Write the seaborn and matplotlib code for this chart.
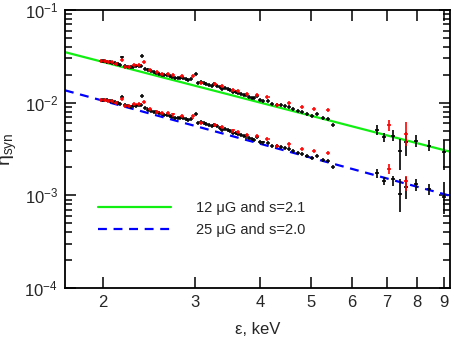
import numpy as np
import pandas as pd
import matplotlib
matplotlib.use('Agg')
import matplotlib.pyplot as plt
import seaborn as sns
from matplotlib.ticker import FixedLocator, FixedFormatter, LogLocator, NullFormatter

# ---------------- data ----------------
line_eps = [1.69, 9.25]
green_eta = [0.0351, 0.00296]
blue_eta = [0.01359, 0.00099]

black_eps = [1.989, 2.011, 2.035, 2.060, 2.084, 2.109, 2.134, 2.156, 2.178, 2.204,
             2.231, 2.257, 2.284, 2.311, 2.338, 2.362, 2.379, 2.411, 2.440, 2.472,
             2.502, 2.531, 2.561, 2.591, 2.621, 2.653, 2.684, 2.715, 2.748, 2.781,
             2.813, 2.847, 2.881, 2.914, 2.949, 3.011, 3.046, 3.082, 3.119, 3.155,
             3.193, 3.231, 3.268, 3.307, 3.347, 3.385, 3.426, 3.467, 3.507, 3.549,
             3.592, 3.634, 3.677, 3.721, 3.764, 3.809, 3.855, 3.899, 3.940, 3.998,
             4.057, 4.136, 4.221, 4.303, 4.380, 4.464, 4.549, 4.630, 4.721, 4.805,
             4.912, 5.035, 5.133, 5.271, 5.389, 5.509]
upper_black = [0.02823, 0.02802, 0.02781, 0.02733, 0.02713, 0.02666, 0.02620, 0.02581, 0.03074, 0.02473,
               0.02430, 0.02412, 0.02455, 0.02473, 0.02492, 0.02517, 0.03175, 0.02335, 0.02239, 0.02184,
               0.02146, 0.02113, 0.02062, 0.02011, 0.01976, 0.01991, 0.01928, 0.01895, 0.01848, 0.01848,
               0.01866, 0.01834, 0.01802, 0.01757, 0.01802, 0.02062, 0.01647, 0.01672, 0.01631, 0.01607,
               0.01567, 0.01528, 0.01591, 0.01528, 0.01476, 0.01394, 0.01440, 0.01394, 0.01359, 0.01316,
               0.01302, 0.01283, 0.01251, 0.01221, 0.01200, 0.01161, 0.01133, 0.01113, 0.01179, 0.01059,
               0.01040, 0.01040, 0.00958, 0.00951, 0.00935, 0.00919, 0.00896, 0.00861, 0.00811, 0.00791,
               0.00760, 0.00716, 0.00760, 0.00688, 0.00671, 0.00578]
lower_black = [0.01077, 0.01068, 0.01059, 0.01040, 0.01031, 0.01012, 0.00993, 0.00978, 0.01163, 0.00935,
               0.00918, 0.00910, 0.00925, 0.00931, 0.00937, 0.00945, 0.01191, 0.00876, 0.00839, 0.00817,
               0.00802, 0.00789, 0.00769, 0.00749, 0.00735, 0.00740, 0.00716, 0.00703, 0.00685, 0.00684,
               0.00690, 0.00677, 0.00665, 0.00648, 0.00664, 0.00758, 0.00605, 0.00613, 0.00597, 0.00588,
               0.00573, 0.00558, 0.00580, 0.00557, 0.00537, 0.00507, 0.00523, 0.00506, 0.00493, 0.00476,
               0.00471, 0.00464, 0.00452, 0.00440, 0.00432, 0.00418, 0.00407, 0.00400, 0.00423, 0.00379,
               0.00372, 0.00371, 0.00342, 0.00338, 0.00332, 0.00326, 0.00317, 0.00304, 0.00286, 0.00279,
               0.00267, 0.00251, 0.00266, 0.00240, 0.00234, 0.00201]

red_eps = [1.983, 2.018, 2.047, 2.078, 2.115, 2.178, 2.204, 2.244, 2.296, 2.338,
           2.400, 2.461, 2.535, 2.591, 2.661, 2.727, 2.831, 2.971, 3.078, 3.278,
           3.376, 3.554, 3.634, 3.770, 3.950, 4.132, 4.314, 4.549, 4.805, 5.073, 5.389]
upper_red = [0.02823, 0.02802, 0.02754, 0.02733, 0.02646, 0.02872, 0.02430, 0.02430, 0.02555, 0.02581,
             0.02733, 0.02279, 0.02146, 0.02062, 0.02062, 0.02011, 0.01928, 0.01928, 0.01631, 0.01579,
             0.01502, 0.01383, 0.01326, 0.01251, 0.01221, 0.01141, 0.00951, 0.01000, 0.00896, 0.00861, 0.00825]
lower_red = [0.01077, 0.01068, 0.01048, 0.01039, 0.01004, 0.01087, 0.00919, 0.00917, 0.00962, 0.00970,
             0.01025, 0.00853, 0.00801, 0.00768, 0.00766, 0.00746, 0.00712, 0.00710, 0.00598, 0.00576,
             0.00546, 0.00501, 0.00479, 0.00450, 0.00438, 0.00408, 0.00338, 0.00354, 0.00316, 0.00302, 0.00288]
dense_rel_err = 0.05
dense_rel_xerr = 0.009

# sparse high-energy points (value, lower bound, upper bound)
sparse_black_eps = [6.70, 6.91, 7.19, 7.42, 7.63, 7.95, 8.42, 9.00]
sparse_upper_black = [0.00510, 0.00424, 0.00442, 0.00304, 0.00374, 0.00390, 0.00344, 0.00292]
sparse_upper_black_lo = [0.00453, 0.00381, 0.00384, 0.00189, 0.00268, 0.00336, 0.00299, 0.00188]
sparse_upper_black_hi = [0.00568, 0.00469, 0.00501, 0.00407, 0.00480, 0.00443, 0.00391, 0.00391]
sparse_lower_black = [0.001726, 0.00144, 0.00151, 0.00103, 0.00122, 0.00132, 0.00117, 0.00095]
sparse_lower_black_lo = [0.00154, 0.00130, 0.00127, 0.000653, 0.000912, 0.00112, 0.00102, 0.000627]
sparse_lower_black_hi = [0.00193, 0.00159, 0.00163, 0.00150, 0.00156, 0.00150, 0.00133, 0.00138]

sparse_red_eps = [7.07, 7.63]
sparse_upper_red = [0.00568, 0.00461]
sparse_upper_red_lo = [0.00489, 0.00337]
sparse_upper_red_hi = [0.00658, 0.00611]
sparse_lower_red = [0.00193, 0.00144]
sparse_lower_red_lo = [0.00170, 0.00112]
sparse_lower_red_hi = [0.00218, 0.00163]
sparse_eps_halfwidth = 0.07

x_ticks = [2, 3, 4, 5, 6, 7, 8, 9]
x_tick_labels = ['2', '3', '4', '5', '6', '7', '8', '9']
y_ticks = [1e-4, 1e-3, 1e-2, 1e-1]
y_tick_labels = [r'$10^{-4}$', r'$10^{-3}$', r'$10^{-2}$', r'$10^{-1}$']
legend_labels = ['12 \u03bcG and s=2.1', '25 \u03bcG and s=2.0']

# ---------------- style ----------------
sns.set_style('ticks')
plt.rcParams['font.family'] = ['Liberation Sans', 'DejaVu Sans']
plt.rcParams['mathtext.fontset'] = 'custom'
plt.rcParams['mathtext.rm'] = 'Liberation Sans'
plt.rcParams['mathtext.it'] = 'Liberation Sans:italic'
plt.rcParams['mathtext.default'] = 'regular'

fig = plt.figure(figsize=(4.52, 3.6), dpi=100)
ax = fig.add_axes([0.1438, 0.2, 0.8518, 0.7722])
ax.set_xscale('log')
ax.set_yscale('log')

lines_df = pd.DataFrame({'eps': line_eps * 2,
                         'eta': green_eta + blue_eta,
                         'model': [legend_labels[0]] * 2 + [legend_labels[1]] * 2})
sns.lineplot(data=lines_df[lines_df.model == legend_labels[0]], x='eps', y='eta', ax=ax,
             color='#11ee11', lw=1.6, label=legend_labels[0], zorder=1)
sns.lineplot(data=lines_df[lines_df.model == legend_labels[1]], x='eps', y='eta', ax=ax,
             color='#0000ff', lw=1.6, ls=(0, (4, 3)), label=legend_labels[1], zorder=1)


def dense(eps, vals, color, z):
    v = np.array(vals)
    ax.errorbar(eps, v, yerr=dense_rel_err * v, xerr=dense_rel_xerr * np.array(eps),
                fmt='none', ecolor=color, elinewidth=1.1, capsize=0, zorder=z)


def sparse(eps, vals, lo, hi, color, z):
    v = np.array(vals)
    yerr = [v - np.array(lo), np.array(hi) - v]
    ax.errorbar(eps, v, yerr=yerr, xerr=sparse_eps_halfwidth,
                fmt='none', ecolor=color, elinewidth=1.2, capsize=0, zorder=z)


for vals in (upper_black, lower_black):
    dense(black_eps, vals, 'black', 2)
for vals in (upper_red, lower_red):
    dense(red_eps, vals, 'red', 3)
sparse(sparse_black_eps, sparse_upper_black, sparse_upper_black_lo, sparse_upper_black_hi, 'black', 2)
sparse(sparse_black_eps, sparse_lower_black, sparse_lower_black_lo, sparse_lower_black_hi, 'black', 2)
sparse(sparse_red_eps, sparse_upper_red, sparse_upper_red_lo, sparse_upper_red_hi, 'red', 3)
sparse(sparse_red_eps, sparse_lower_red, sparse_lower_red_lo, sparse_lower_red_hi, 'red', 3)

ax.set_xlim(1.69, 9.25)
ax.set_ylim(1e-4, 1e-1)

ax.xaxis.set_major_locator(FixedLocator(x_ticks))
ax.xaxis.set_major_formatter(FixedFormatter(x_tick_labels))
ax.xaxis.set_minor_locator(FixedLocator([]))
ax.yaxis.set_major_locator(FixedLocator(y_ticks))
ax.yaxis.set_major_formatter(FixedFormatter(y_tick_labels))
ax.yaxis.set_minor_locator(LogLocator(base=10, subs=np.arange(2, 10)))
ax.yaxis.set_minor_formatter(NullFormatter())

ax.tick_params(which='both', direction='in', top=True, right=True, color='black', width=1.1)
ax.tick_params(which='major', length=8, labelsize=12, pad=5)
ax.tick_params(which='minor', length=5)
for s in ax.spines.values():
    s.set_linewidth(1.3)
    s.set_color('black')

ax.set_xlabel('\u03b5, keV', fontsize=12, labelpad=9)
ax.set_ylabel(r'$\eta_{syn}$', fontsize=14, labelpad=4)

ax.legend(loc='center left', bbox_to_anchor=(0.052, 0.248), frameon=False,
          fontsize=10.5, handlelength=5.0, handletextpad=1.7, labelspacing=0.5)

fig.savefig('out.png', dpi=100)
